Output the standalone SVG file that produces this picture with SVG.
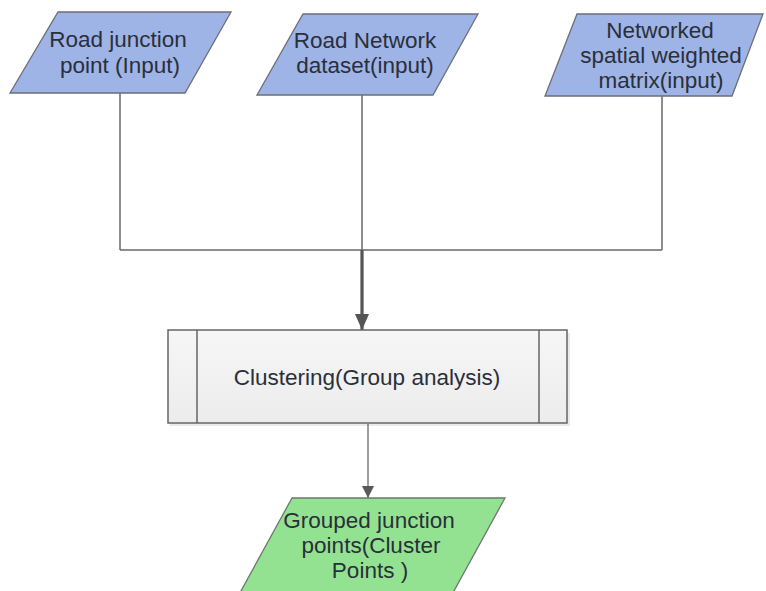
<svg xmlns="http://www.w3.org/2000/svg" width="766" height="591" viewBox="0 0 766 591">
<style>
.in{fill:#9eb3e6;stroke:#6e6e78;stroke-width:1.3}
.out{fill:#93e292;stroke:#6e786e;stroke-width:1.3}
.t{font-family:"Liberation Sans",Arial,sans-serif;font-size:22.5px;fill:#2a2f3a;text-anchor:middle}
.c{fill:none;stroke:#6a6a6a;stroke-width:1.5}
</style>
<defs>
<linearGradient id="g" x1="0" y1="0" x2="0" y2="1">
<stop offset="0" stop-color="#f6f6f6"/>
<stop offset="1" stop-color="#ececec"/>
</linearGradient>
<marker id="big" markerWidth="16" markerHeight="14" refX="16" refY="7" orient="auto" markerUnits="userSpaceOnUse">
<path d="M0,0 L16,7 L0,14 Z" fill="#555"/>
</marker>
<marker id="small" markerWidth="12" markerHeight="12" refX="12" refY="6" orient="auto" markerUnits="userSpaceOnUse">
<path d="M0,0 L12,6 L0,12 Z" fill="#5a5a5a"/>
</marker>
</defs>
<rect width="766" height="591" fill="#fff"/>
<g id="connectors">
<path class="c" d="M120,93 V250 M362,95 V250 M662,96 V250 M120,250 H662"/>
<path d="M362,250 V330" fill="none" stroke="#555" stroke-width="3.2" marker-end="url(#big)"/>
<path d="M368,424 V498" fill="none" stroke="#6a6a6a" stroke-width="1.3" marker-end="url(#small)"/>
</g>
<g id="n1">
<polygon class="in" points="58,12 231,12 185,93 10,93"/>
<text class="t" x="118" y="47">Road junction</text>
<text class="t" x="120" y="73">point (Input)</text>
</g>
<g id="n2">
<polygon class="in" points="303,14 478,14 433,95 257,95"/>
<text class="t" x="365" y="48">Road Network</text>
<text class="t" x="365" y="73">dataset(input)</text>
</g>
<g id="n3">
<polygon class="in" points="577,14 763,14 732,96 545,96"/>
<text class="t" x="660" y="38">Networked</text>
<text class="t" x="661" y="63">spatial weighted</text>
<text class="t" x="661" y="88">matrix(input)</text>
</g>
<g id="n4">
<rect x="170" y="333" width="400" height="93" fill="#000" opacity="0.08"/>
<rect x="168" y="330" width="399" height="93" fill="url(#g)" stroke="#666" stroke-width="1.5"/>
<path d="M197,330 V423 M539,330 V423" stroke="#666" stroke-width="1.5"/>
<text class="t" x="367" y="385">Clustering(Group analysis)</text>
</g>
<g id="n5">
<polygon class="out" points="292,498 505,498 449,600 236,600"/>
<text class="t" x="369" y="528">Grouped junction</text>
<text class="t" x="371" y="553">points(Cluster</text>
<text class="t" x="370" y="578">Points )</text>
</g>
</svg>
